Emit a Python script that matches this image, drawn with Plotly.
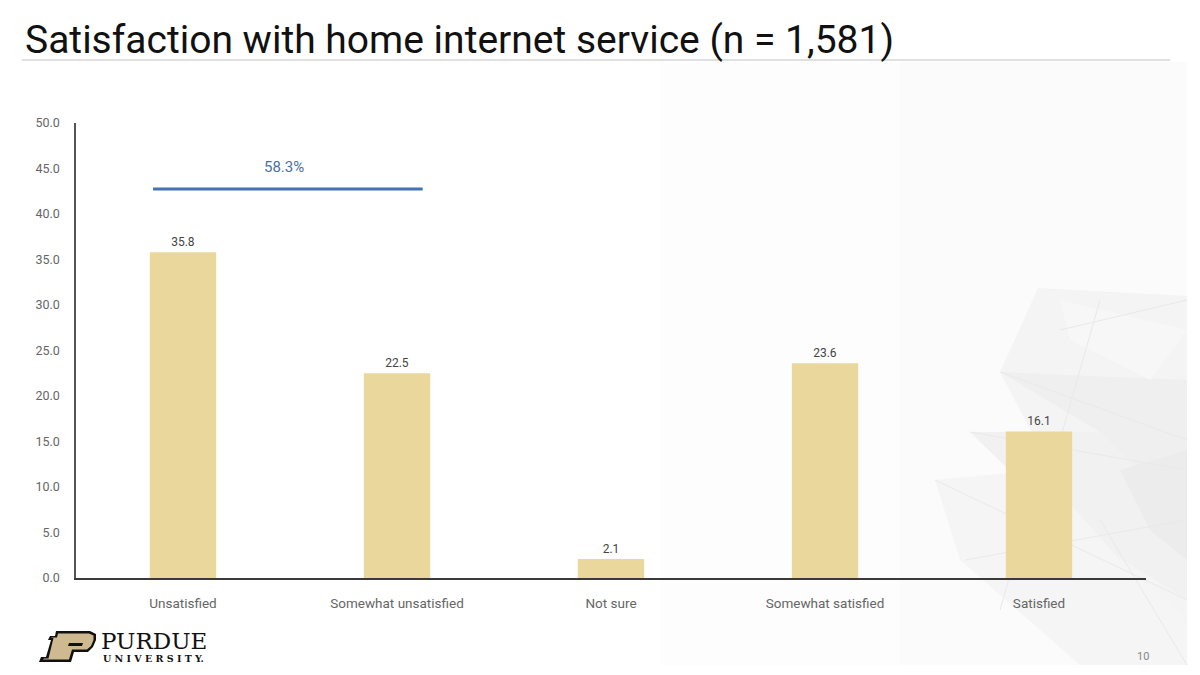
import plotly.graph_objects as go

# Survey results
categories = ["Unsatisfied", "Somewhat unsatisfied", "Not sure", "Somewhat satisfied", "Satisfied"]
percentages = [35.8, 22.5, 2.1, 23.6, 16.1]
y_ticks = [0, 5, 10, 15, 20, 25, 30, 35, 40, 45, 50]

# Bracket grouping the two "unsatisfied" answers
bracket_span = (-0.14, 1.12)   # in category units
bracket_level = 42.75
bracket_total = round(percentages[0] + percentages[1], 1)

W, H = 1200, 675
L, R, T, B = 76, 54, 123, 97
PW, PH = W - L - R, H - T - B


def px(x):
    return (x - L) / PW


def py(y):
    return (H - B - y) / PH


def poly(points):
    d = "M " + " L ".join(f"{px(x):.5f} {py(y):.5f}" for x, y in points) + " Z"
    return d


BAR = "#E9D79C"
BLUE = "#4472B4"

fig = go.Figure()
fig.add_trace(go.Bar(
    x=categories, y=percentages, width=0.31,
    marker=dict(color=BAR, line=dict(width=0)),
    text=[f"{v:.1f}" for v in percentages], textposition="outside",
    textfont=dict(family="Roboto", size=12, color="#444444"),
    cliponaxis=False, showlegend=False, hoverinfo="x+y",
))

shapes = []
# faint background panel and geometric facets on the right
shapes.append(dict(type="path", xref="paper", yref="paper", layer="below",
                   path=poly([(660, 62), (1187, 62), (1187, 665), (660, 665)]),
                   fillcolor="#FDFDFD", line=dict(width=0)))
shapes.append(dict(type="path", xref="paper", yref="paper", layer="below",
                   path=poly([(900, 62), (1187, 62), (1187, 665), (900, 665)]),
                   fillcolor="#FBFBFB", line=dict(width=0)))
facets = [
    ([(1038, 288), (1187, 296), (1187, 640), (1120, 600), (1000, 372)], "#F4F4F4"),
    ([(1000, 372), (1187, 380), (1187, 520), (1100, 432)], "#EFEFEF"),
    ([(970, 432), (1100, 432), (1187, 520), (1187, 600), (1060, 520)], "#F1F1F1"),
    ([(935, 480), (1040, 470), (1120, 560), (1187, 620), (1187, 665), (1080, 665), (960, 560)], "#F5F5F5"),
    ([(1060, 300), (1187, 330), (1150, 380), (1070, 340)], "#F7F7F7"),
    ([(1120, 470), (1187, 450), (1187, 560), (1150, 530)], "#ECECEC"),
]
for pts, col in facets:
    shapes.append(dict(type="path", xref="paper", yref="paper", layer="below",
                       path=poly(pts), fillcolor=col, line=dict(width=0)))
facet_lines = [
    ((1060, 330), (1187, 300)), ((1000, 372), (1187, 440)), ((1100, 300), (1060, 440)),
    ((970, 432), (1187, 470)), ((935, 480), (1187, 600)), ((1040, 470), (1000, 610)),
    ((965, 560), (1187, 520)), ((1100, 520), (1187, 665)),
]
for (x0, y0), (x1, y1) in facet_lines:
    shapes.append(dict(type="line", xref="paper", yref="paper", layer="below",
                       x0=px(x0), y0=py(y0), x1=px(x1), y1=py(y1),
                       line=dict(color="#E9E9E9", width=1)))

# title rule
shapes.append(dict(type="line", xref="paper", yref="paper",
                   x0=px(22), x1=px(1170), y0=py(60), y1=py(60),
                   line=dict(color="#D6D6D6", width=1.5)))

# bracket line
shapes.append(dict(type="line", xref="x", yref="y",
                   x0=bracket_span[0], x1=bracket_span[1],
                   y0=bracket_level, y1=bracket_level,
                   line=dict(color=BLUE, width=3)))

# Purdue "P" mark
shapes.append(dict(type="path", xref="paper", yref="paper",
                   path=poly([(56, 631), (90, 631), (96, 634), (96, 640), (93, 647), (88, 652),
                              (74, 652), (71, 662), (39, 662), (41, 657), (46, 657), (51, 640),
                              (48, 640), (50, 636), (55, 636)]),
                   fillcolor="#111111", line=dict(width=0)))
shapes.append(dict(type="path", xref="paper", yref="paper",
                   path=poly([(58, 633.5), (89, 633.5), (93.5, 635.5), (93.5, 640), (91, 646), (87, 649.5),
                              (72, 649.5), (69, 659.5), (43, 659.5), (44, 658.5), (48.5, 658.5), (53.5, 638),
                              (51, 638), (52, 637.5), (57, 637.5)]),
                   fillcolor="#CFB991", line=dict(width=0)))
shapes.append(dict(type="path", xref="paper", yref="paper",
                   path=poly([(69, 643), (83, 643), (82, 646), (68, 646)]),
                   fillcolor="#111111", line=dict(width=0)))

annotations = [
    dict(text="Satisfaction with home internet service (n = 1,581)", xref="paper", yref="paper",
         x=px(23), y=py(40), xanchor="left", yanchor="middle", showarrow=False,
         font=dict(family="Roboto", size=39, color="#111111")),
    dict(text=f"{bracket_total}%", xref="x", yref="y",
         x=(bracket_span[0] + bracket_span[1]) / 2 - 0.02, y=bracket_level + 2.4,
         xanchor="center", yanchor="middle", showarrow=False,
         font=dict(family="Roboto", size=15, color="#4A6EA8")),
    dict(text="PURDUE", xref="paper", yref="paper", x=px(99), y=py(641),
         xanchor="left", yanchor="middle", showarrow=False,
         font=dict(family="DejaVu Serif", size=23, color="#111111")),
    dict(text="<b>U N I V E R S I T Y.</b>", xref="paper", yref="paper", x=px(101), y=py(658),
         xanchor="left", yanchor="middle", showarrow=False,
         font=dict(family="DejaVu Serif", size=9.5, color="#111111")),
    dict(text="10", xref="paper", yref="paper", x=px(1143), y=py(656),
         xanchor="center", yanchor="middle", showarrow=False,
         font=dict(family="Roboto", size=11, color="#888888")),
]

fig.update_layout(
    width=W, height=H, margin=dict(l=L, r=R, t=T, b=B),
    paper_bgcolor="white", plot_bgcolor="rgba(0,0,0,0)",
    shapes=shapes, annotations=annotations, bargap=0.69,
    xaxis=dict(showgrid=False, showline=True, linecolor="#3A3A3A", linewidth=1.5,
               ticks="", tickfont=dict(family="Roboto", size=13.5, color="#666666"),
               ticklabelstandoff=12, fixedrange=True),
    yaxis=dict(range=[0, 50], tickvals=y_ticks, tickformat=".1f", showgrid=False,
               zeroline=False, showline=True, linecolor="#555555", linewidth=1.5,
               ticks="", tickfont=dict(family="Roboto", size=12.5, color="#666666"),
               ticklabelstandoff=12, fixedrange=True),
)

fig.write_html("out.html")
